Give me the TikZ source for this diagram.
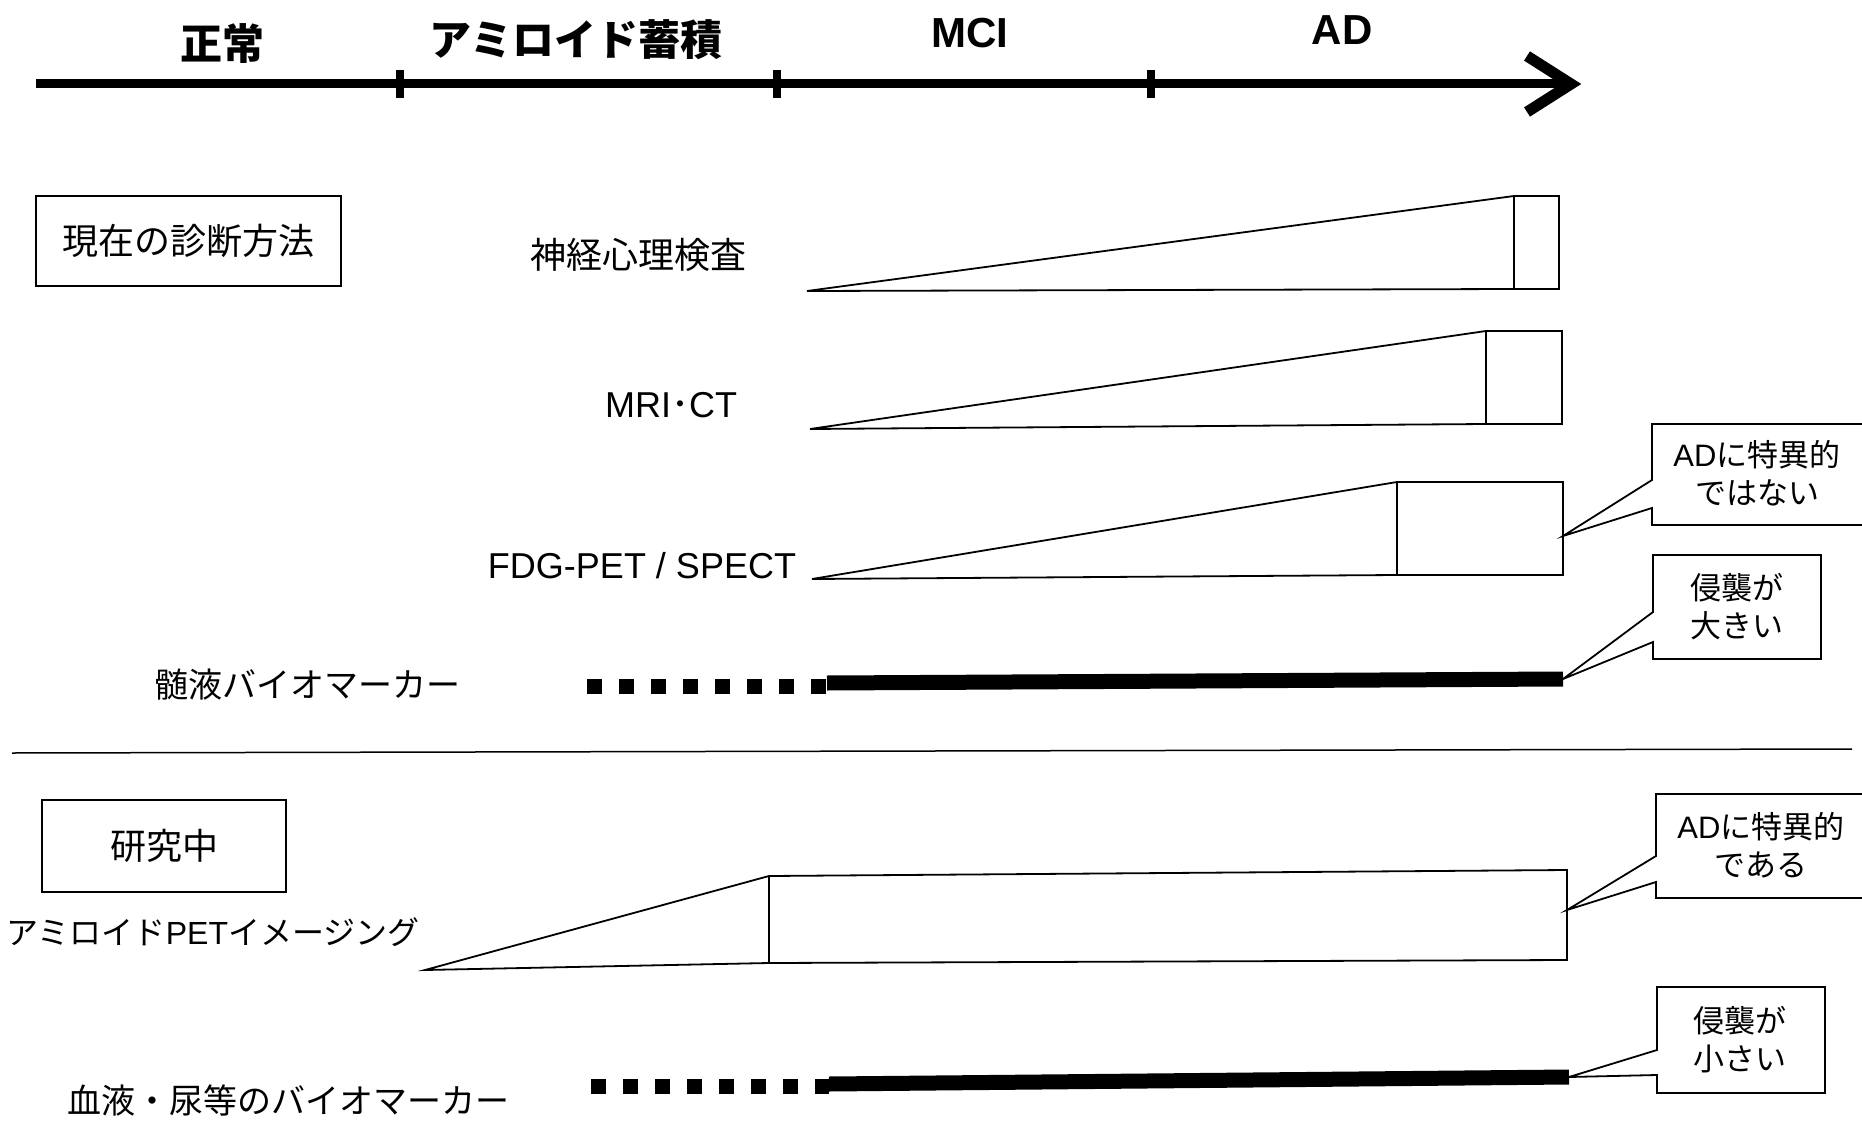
\documentclass[tikz,border=0pt]{standalone}
\usepackage{fontspec}
\setmainfont{Liberation Sans}
\newfontfamily\jp{Noto Sans CJK JP}
\newcommand\lat[1]{{\rmfamily #1}}
\tikzset{
  axisline/.style={line width=9pt},
  tickmark/.style={line width=8pt},
  headlbl/.style={font=\jp\bfseries\fontsize{42}{46}\selectfont, inner sep=0pt},
  rowlbl/.style={font=\jp\fontsize{34}{40}\selectfont, inner sep=0pt},
  latlbl/.style={font=\rmfamily\fontsize{36}{40}\selectfont, inner sep=0pt},
  catbox/.style={draw, line width=1.8pt, font=\jp\fontsize{36}{40}\selectfont, inner sep=0pt},
  wedge/.style={draw, line width=1.8pt, line join=miter},
  calloutshape/.style={draw, fill=white, line width=1.8pt, line join=miter},
  callouttext/.style={font=\jp\fontsize{31}{38}\selectfont, align=center, inner sep=0pt},
  dotbar/.style={line width=15pt, dash pattern=on 15pt off 17pt},
  solidbar/.style={line width=15pt},
}
\begin{document}
\begin{tikzpicture}[x=1pt,y=-1pt]
\useasboundingbox (0,0) rectangle (1862,1123);
\clip (0,0) rectangle (1862,1123);
\fill[white] (0,0) rectangle (1862,1123);

% ---------- time axis ----------
\coordinate (ax0) at (36,84);
\coordinate (ax1) at (1566,84);
\draw[axisline] (ax0) -- (ax1);
\draw[line width=11pt, line join=miter] (1527,56) -- (1571,84) -- (1527,112);
\foreach \x/\n in {400/t1,777/t2,1151/t3}{
  \coordinate (\n) at (\x,84);
  \draw[tickmark] (\x,70) -- (\x,98);
}
\node[headlbl] (h1) at (222,44) {正常};
\node[headlbl] (h2) at (576,40) {アミロイド蓄積};
\node[headlbl, font=\rmfamily\bfseries\fontsize{42}{46}\selectfont] (h3) at (970,33) {MCI};
\node[headlbl, font=\rmfamily\bfseries\fontsize{42}{46}\selectfont] (h4) at (1342,30) {AD};

% ---------- current methods ----------
\node[catbox, minimum width=305pt, minimum height=90pt] (cur) at (188.5,241) {現在の診断方法};

\node[font=\jp\fontsize{36}{40}\selectfont, inner sep=0pt] (l1) at (638,255) {神経心理検査};
\draw[wedge] (807,291) -- (1514,196) -- (1559,196) -- (1559,289) -- (1514,289) -- cycle;
\draw[wedge] (1514,196) -- (1514,289);

\node[latlbl] (l2) at (671,405) {MRI{\jp ･}CT};
\draw[wedge] (810,429) -- (1486,331) -- (1562,331) -- (1562,424) -- (1486,424) -- cycle;
\draw[wedge] (1486,331) -- (1486,424);

\node[latlbl] (l3) at (642,566) {FDG-PET / SPECT};
\draw[wedge] (812,579) -- (1397,482) -- (1563,482) -- (1563,575) -- (1397,575) -- cycle;
\draw[wedge] (1397,482) -- (1397,575);
\coordinate (w3) at (1563,536);

\node[rowlbl] (l4) at (307,685) {髄液バイオマーカー};
\draw[dotbar] (587,686) -- (827,686);
\draw[solidbar] (827,683) -- (1563,679);
\coordinate (b1) at (1563,679);

% callout 1
\draw[calloutshape] (1652,424) -- (1875,424) -- (1875,525) -- (1652,525) -- (1652,508) -- (w3) -- (1652,480) -- cycle;
\node[callouttext] (c1) at (1757,473) {\lat{AD}に特異的\\ではない};
% callout 2
\draw[calloutshape] (1653,555) -- (1821,555) -- (1821,659) -- (1653,659) -- (1653,642) -- (b1) -- (1653,612) -- cycle;
\node[callouttext] (c2) at (1737,607) {侵襲が\\大きい};

% ---------- divider ----------
\draw[line width=1.5pt] (12,753) -- (1852,749);

% ---------- research ----------
\node[catbox, minimum width=244pt, minimum height=92pt] (res) at (164,846) {研究中};

\node[rowlbl, font=\jp\fontsize{32}{38}\selectfont] (l5) at (213,932) {アミロイド\lat{PET}イメージング};
\draw[wedge] (425,970) -- (769,876) -- (1567,870) -- (1567,960) -- (769,963) -- cycle;
\draw[wedge] (769,876) -- (769,963);
\coordinate (w4) at (1567,910);

\node[rowlbl] (l6) at (288,1100) {血液・尿等のバイオマーカー};
\draw[dotbar] (591,1086) -- (829,1086);
\draw[solidbar] (829,1084) -- (1569,1077);
\coordinate (b2) at (1569,1077);

% callout 3
\draw[calloutshape] (1656,794) -- (1875,794) -- (1875,898) -- (1656,898) -- (1656,882) -- (w4) -- (1656,856) -- cycle;
\node[callouttext] (c3) at (1761,845) {\lat{AD}に特異的\\である};
% callout 4
\draw[calloutshape] (1657,987) -- (1825,987) -- (1825,1093) -- (1657,1093) -- (1657,1075) -- (b2) -- (1657,1050) -- cycle;
\node[callouttext] (c4) at (1740,1040) {侵襲が\\小さい};
\end{tikzpicture}
\end{document}
